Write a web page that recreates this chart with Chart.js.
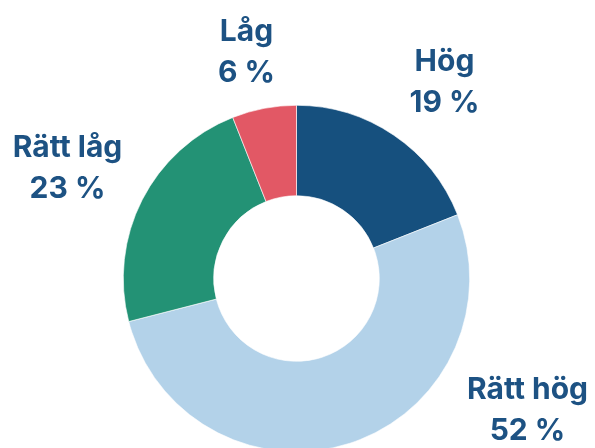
<!DOCTYPE html>
<html>
<head>
<meta charset="utf-8">
<script src="https://cdn.jsdelivr.net/npm/chart.js@4"></script>
<style>
  html, body { margin: 0; padding: 0; overflow: hidden; background: #ffffff; width: 595px; height: 448px; }
  #wrap { position: relative; width: 595px; height: 460px; }
</style>
</head>
<body>
<div id="wrap"><canvas id="c"></canvas></div>
<script>
const categories = ["Hög", "Rätt hög", "Rätt låg", "Låg"];
const shares = [19, 52, 23, 6];
const colors = ["#16507e", "#b3d2e9", "#239275", "#e25865"];

// label anchor offsets relative to doughnut centre (first-line baseline)
const labelOffsets = [
  { dx: 148, dy: -208 },
  { dx: 231, dy: 120 },
  { dx: -229, dy: -122 },
  { dx: -50, dy: -238 }
];

const labelPlugin = {
  id: 'outerLabels',
  afterDatasetsDraw(chart) {
    const ctx = chart.ctx;
    const meta = chart.getDatasetMeta(0);
    const arc0 = meta.data[0];
    const cx = arc0.x, cy = arc0.y;
    ctx.save();
    ctx.fillStyle = '#1d5283';
    ctx.font = 'bold 30px Inter, "Open Sans", sans-serif';
    ctx.textAlign = 'center';
    ctx.textBaseline = 'alphabetic';
    meta.data.forEach((arc, i) => {
      const o = labelOffsets[i];
      const x = cx + o.dx, y = cy + o.dy;
      ctx.fillText(chart.data.labels[i], x, y);
      ctx.fillText(chart.data.datasets[0].data[i] + ' %', x, y + 41);
    });
    ctx.restore();
  }
};

new Chart(document.getElementById('c'), {
  type: 'doughnut',
  data: {
    labels: categories,
    datasets: [{
      data: shares,
      backgroundColor: colors,
      borderColor: '#ffffff',
      borderWidth: 0.6
    }]
  },
  options: {
    responsive: true,
    maintainAspectRatio: false,
    animation: false,
    cutout: '47.8%',
    layout: { padding: { left: 123, right: 125, top: 105, bottom: 8 } },
    plugins: { legend: { display: false }, tooltip: { enabled: false } }
  },
  plugins: [labelPlugin]
});
</script>
</body>
</html>
